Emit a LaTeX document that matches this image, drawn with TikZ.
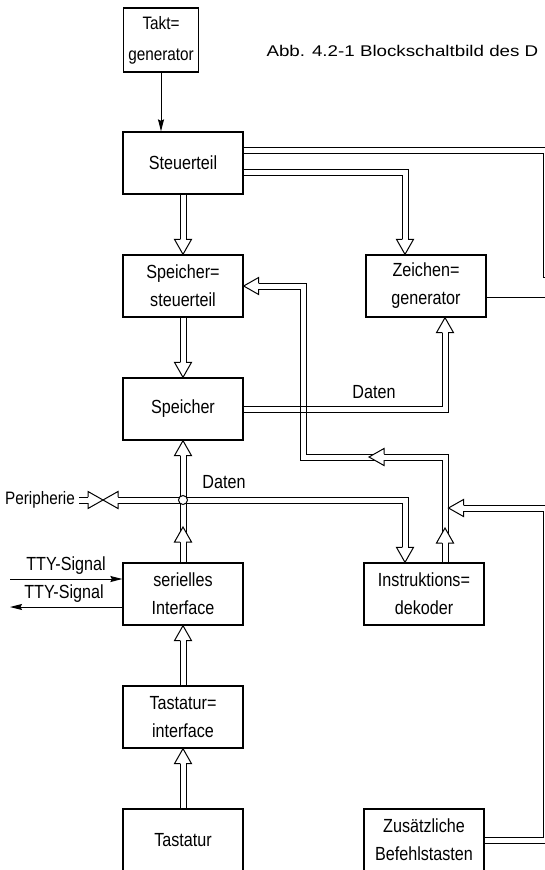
\documentclass[tikz,border=0pt]{standalone}
\usepackage{fontspec}
\setmainfont[FakeStretch=0.85]{Liberation Sans}
\newfontfamily\capfont[FakeStretch=1.21]{Liberation Sans}
\usepackage{tikz}
\usetikzlibrary{arrows.meta}
\newcommand{\boxfont}{\fontsize{19}{28}\selectfont}
\tikzstyle{box} = [rectangle, draw=black, line width=1.3pt, minimum width=120pt, minimum height=62pt, text centered, align=center, font=\boxfont]
\tikzstyle{txt} = [font=\boxfont, inner sep=1pt]
\tikzstyle{bus} = [double, double distance=5pt, line width=1pt]
\tikzstyle{busto} = [bus, shorten >=8pt]
\tikzstyle{busboth} = [bus, shorten >=8pt, shorten <=8pt]
\tikzstyle{wire} = [line width=1pt]
\tikzstyle{arrow} = [line width=1pt, -{Stealth[length=12pt, width=6pt, inset=1.5pt]}]
\tikzset{pics/bushead/.style={code={%
  \draw [line width=1pt, fill=white] (-3pt,15pt) -- (-8.5pt,15pt) -- (0pt,0pt) -- (8.5pt,15pt) -- (3pt,15pt);
}}}

\begin{document}
\begin{tikzpicture}[x=1pt, y=-1pt, node distance=123pt]
\useasboundingbox (0,0) rectangle (545,870);
\fill [white] (0,0) rectangle (545,870);
\clip (0,0) rectangle (545,870);

\node (takt) [box, minimum width=75pt, minimum height=64pt, inner sep=2pt, font=\fontsize{18}{31}\selectfont] at (161,40) {Takt=\\generator};
\node (steuer) [box, below of=takt, xshift=22pt] {Steuerteil};
\node (sst) [box, below of=steuer] {Speicher=\\steuerteil};
\node (speicher) [box, below of=sst] {Speicher};
\node (seriell) [box, below of=speicher, yshift=-62pt] {serielles\\Interface};
\node (tint) [box, below of=seriell] {Tastatur=\\interface};
\node (tast) [box, below of=tint] {Tastatur};
\node (zeichen) [box, right of=sst, xshift=120pt] {Zeichen=\\generator};
\node (instr) [box, right of=seriell, xshift=118pt] {Instruktions=\\dekoder};
\node (zus) [box, right of=tast, xshift=118pt] {Zusätzliche\\Befehlstasten};

\node (caption) [anchor=west, font=\capfont\fontsize{15.5}{18}\selectfont] at (263,51) {Abb. 4.2-1 Blockschaltbild des D};
\node (peri) [txt, anchor=east, font=\fontsize{18}{28}\selectfont] at (76,500) {Peripherie};
\node (ttyin) [txt] at (66,566) {TTY-Signal};
\node (ttyout) [txt] at (64,594) {TTY-Signal};
\node (daten1) [txt] at (374,392) {Daten};
\node (daten2) [txt] at (224,482) {Daten};

\coordinate (peritip) at (103,500);
\coordinate (loopbend) at (303.5,457);
\coordinate (befjoin) at (448.5,508);
\coordinate (rtop) at (560,274);
\coordinate (rzei) at (560,297.5);
\coordinate (ttysrc) at (10,579);
\coordinate (ttydst) at (10,607);

% buses
\draw [busto] (steuer) -- (sst);
\draw [busto] (sst) -- (speicher);
\draw [busto] (seriell) -- (speicher);
\draw [busto] (tint) -- (seriell);
\draw [busto] (tast) -- (tint);
\draw [bus] ([yshift=13pt]steuer.east) -| (546,274) -- (rtop);
\draw [busto] ([yshift=-9pt]steuer.east) -| ([xshift=-21pt]zeichen.north);
\draw [busto] (speicher.east) -| ([xshift=19pt]zeichen.south);
\draw [busto] ([xshift=21pt]instr.north) |- (loopbend) |- (sst.east);
\draw [busto] (zus.east) -| (546,508) -- (befjoin);
\draw [busboth] ([xshift=-19pt]instr.north) |- (peritip);
\draw [busto] ([xshift=3pt]peri.east) -- (peritip);
% crossing lines
\draw [wire] (298.5,406) -- (308.5,406);
\draw [wire] (298.5,412) -- (308.5,412);

% single lines
\draw [wire] ([yshift=-11.5pt]zeichen.east) -- (rzei);
\draw [arrow] (takt) -- (takt |- steuer.north);
\draw [arrow] (ttysrc) -- (ttysrc -| seriell.west);
\draw [arrow] (ttydst -| seriell.west) -- (ttydst);

% heads
\pic at (sst.north) {bushead};
\pic at (speicher.north) {bushead};
\pic [rotate=180] at (speicher.south) {bushead};
\pic [rotate=180] at (183,527) {bushead};
\pic [rotate=180] at (seriell.south) {bushead};
\pic [rotate=180] at (tint.south) {bushead};
\pic at ([xshift=-21pt]zeichen.north) {bushead};
\pic [rotate=180] at ([xshift=19pt]zeichen.south) {bushead};
\pic [rotate=-90] at (sst.east) {bushead};
\pic [rotate=-90] at (369,457) {bushead};
\pic [rotate=180] at (445,528) {bushead};
\pic [rotate=-90] at (befjoin) {bushead};
\pic at ([xshift=-19pt]instr.north) {bushead};
\pic [rotate=-90] at (peritip) {bushead};
\pic [rotate=90] at (peritip) {bushead};
\draw [wire, fill=white] (seriell.north |- peritip) circle (4.5pt);

\end{tikzpicture}
\end{document}
